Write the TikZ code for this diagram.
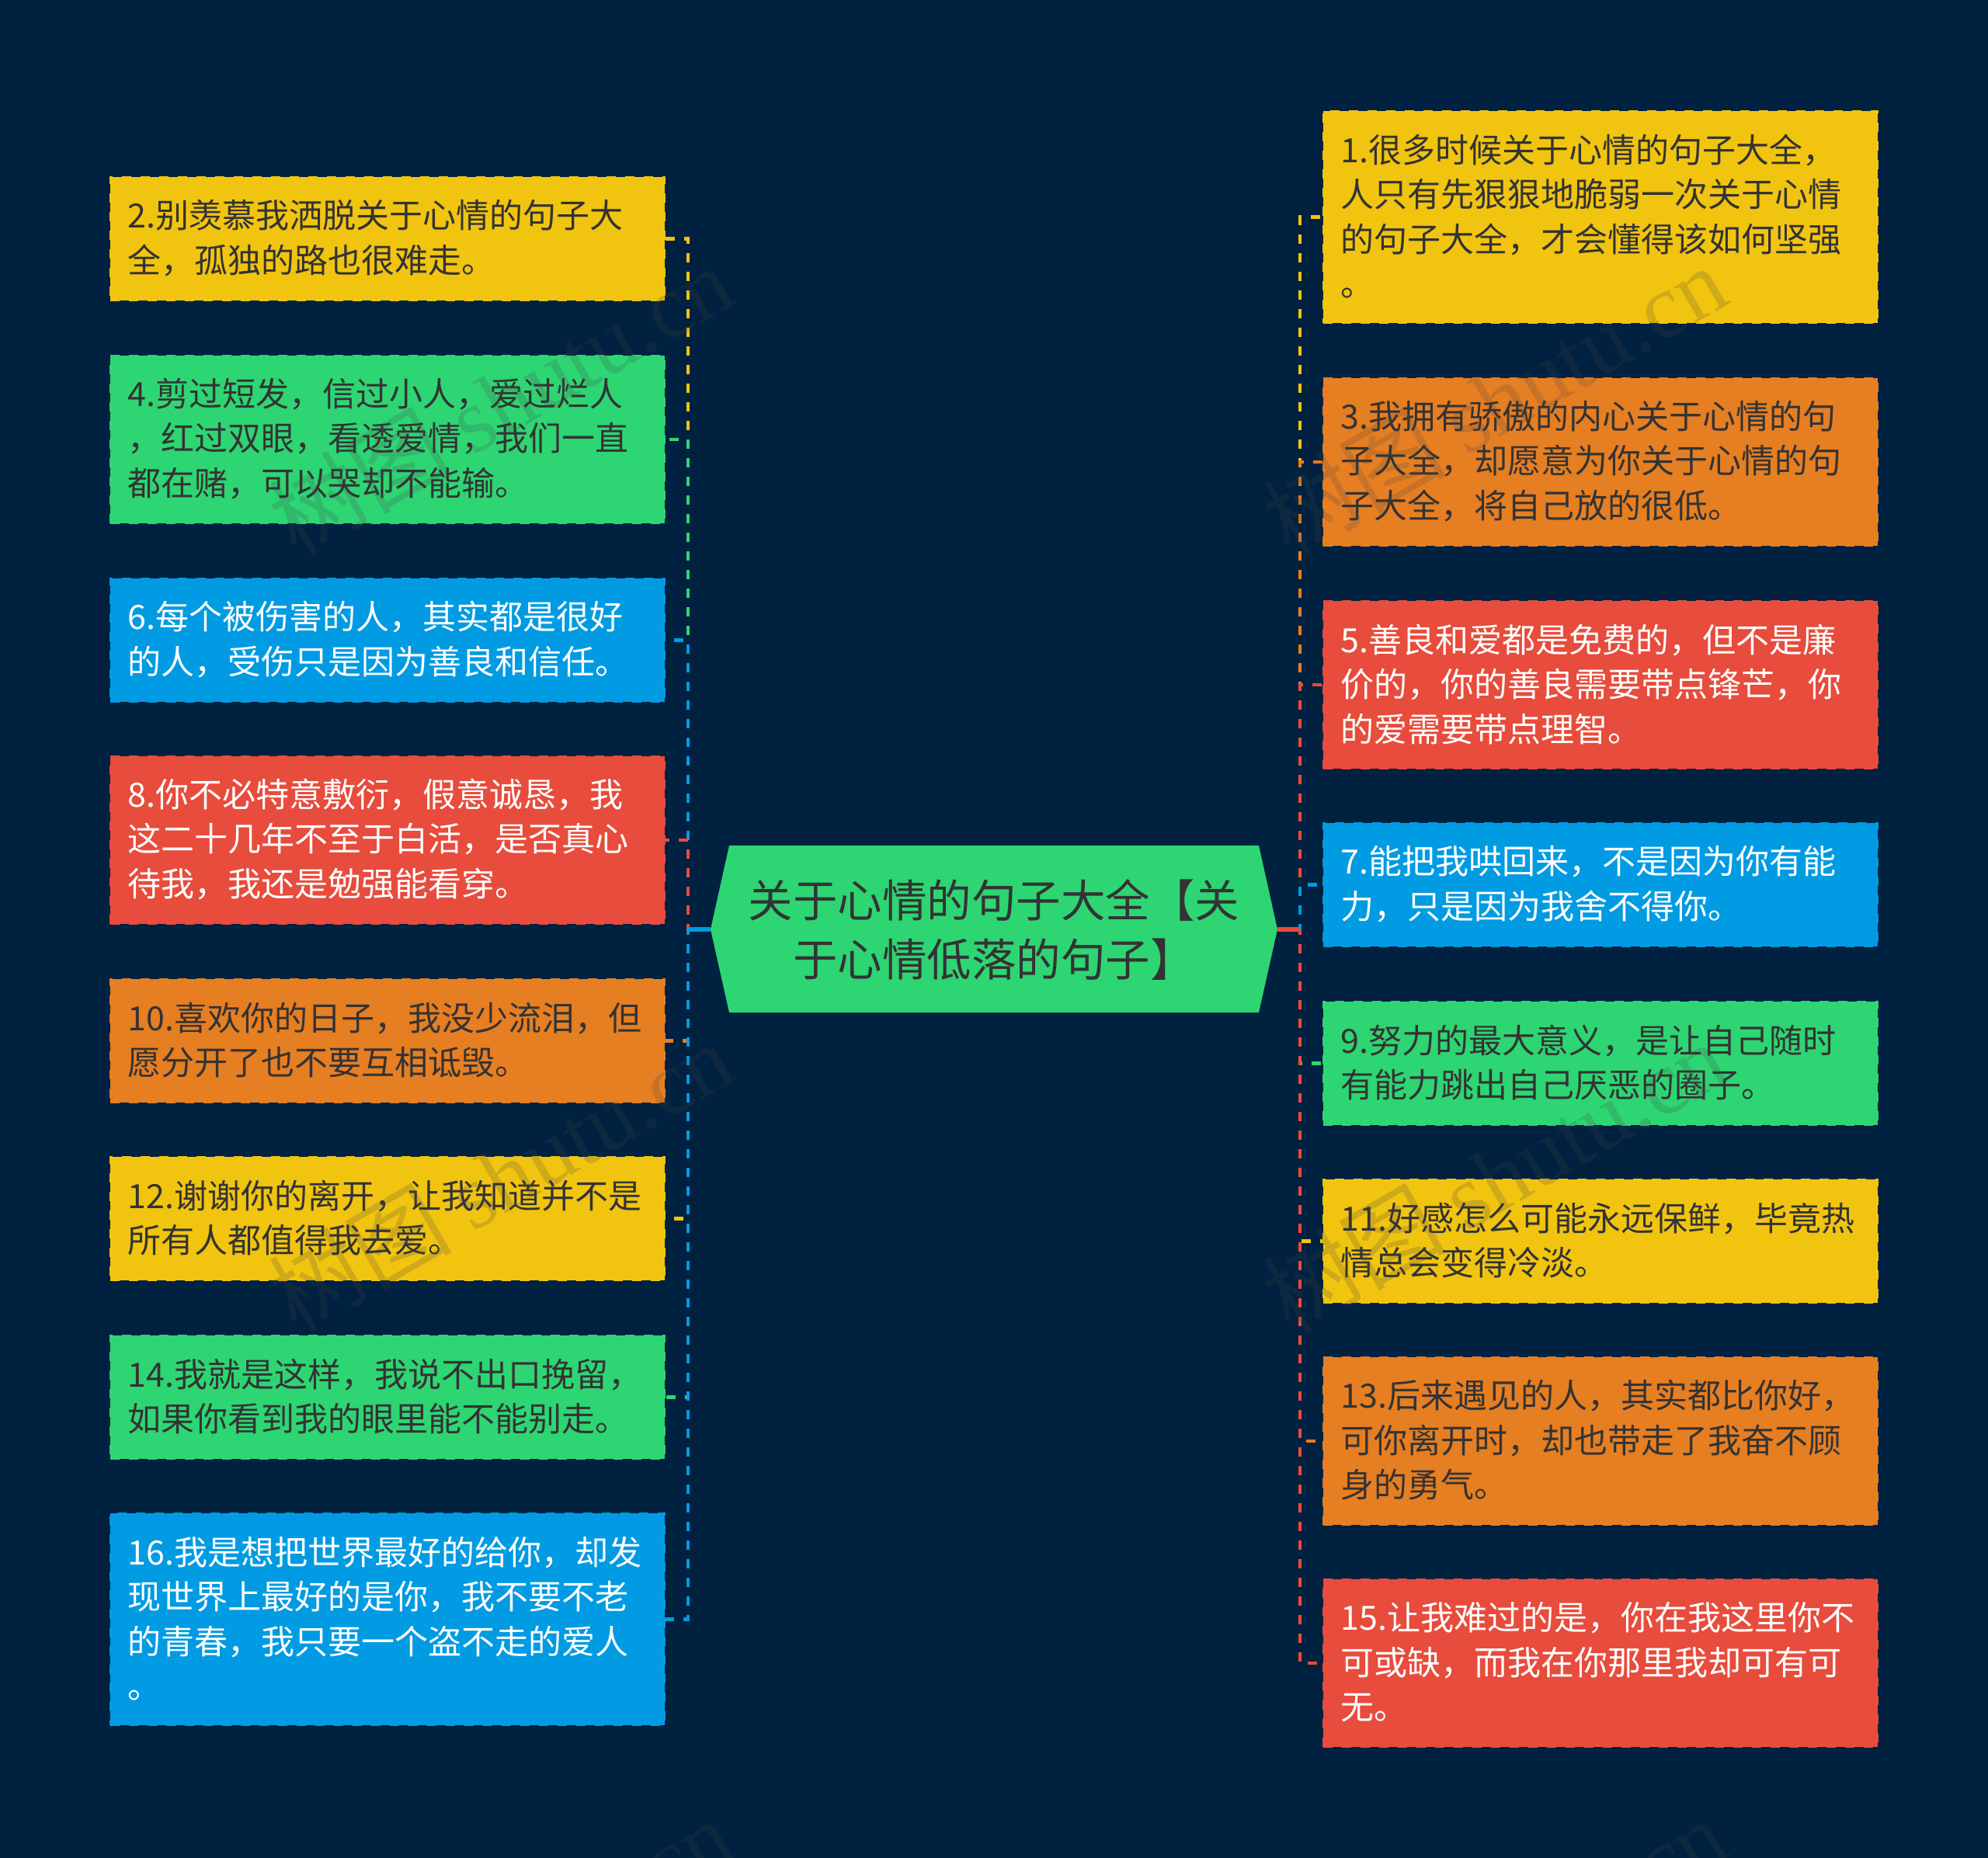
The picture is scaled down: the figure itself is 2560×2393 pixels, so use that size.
\documentclass[tikz,border=0pt]{standalone}
\usepackage{fontspec}
\setmainfont{Noto Sans CJK SC}
\newfontfamily\wmlatin{Liberation Serif}
\definecolor{bgc}{HTML}{00213F}
\definecolor{cY}{HTML}{F1C40F}
\definecolor{cG}{HTML}{2ED573}
\definecolor{cO}{HTML}{E67E22}
\definecolor{cR}{HTML}{E74C3C}
\definecolor{cB}{HTML}{009BE2}
\definecolor{ink}{HTML}{333333}
\definecolor{wmc}{HTML}{464646}
\tikzset{
  box/.style={anchor=north west,rectangle,fill=#1,draw=#1,line width=2pt,dash pattern=on 12pt off 12pt,
    outer sep=0pt,inner xsep=22.5pt,inner ysep=0pt,text width=669pt,minimum width=714pt,align=left,
    font=\fontsize{43pt}{57.5pt}\selectfont,execute at end node={\par\vspace*{2pt}}},
  dk/.style={text=ink},
  wh/.style={text=white},
  link/.style={draw=#1,line width=4.5pt,dash pattern=on 12pt off 12pt,dash phase=5pt},
  stub/.style={draw=#1,line width=6pt},
  wm/.style={text=wmc,text opacity=.2,rotate=30,font=\fontsize{118pt}{118pt}\selectfont,anchor=center}
}
\begin{document}
\begin{tikzpicture}[x=1pt,y=-1pt]
\path[use as bounding box,clip] (0,0) rectangle (2560,2393);
\fill[bgc] (0,0) rectangle (2560,2393);
\coordinate (ltrunk) at (886,1197);
\coordinate (rtrunk) at (1674,1197);
% root
\fill[cG] (915,1197) -- (939,1089) -- (1621,1089) -- (1645,1197) -- (1621,1304) -- (939,1304) -- cycle;
\node[minimum width=730pt,minimum height=215pt,outer sep=0pt,inner sep=0pt,align=center,text=ink,
  font=\fontsize{57.5pt}{76pt}\selectfont,execute at end node={\par\vspace*{4pt}}] (root) at (1280,1197) {关于心情的句子大全【关\\于心情低落的句子】};
% left boxes
\node[box=cY,dk,minimum height=159pt] (n2) at (142,228) {2.别羡慕我洒脱关于心情的句子大\\全，孤独的路也很难走。};
\node[box=cG,dk,minimum height=216pt] (n4) at (142,458) {4.剪过短发，信过小人，爱过烂人\\，红过双眼，看透爱情，我们一直\\都在赌，可以哭却不能输。};
\node[box=cB,wh,minimum height=159pt] (n6) at (142,745) {6.每个被伤害的人，其实都是很好\\的人，受伤只是因为善良和信任。};
\node[box=cR,wh,minimum height=216pt] (n8) at (142,974) {8.你不必特意敷衍，假意诚恳，我\\这二十几年不至于白活，是否真心\\待我，我还是勉强能看穿。};
\node[box=cO,dk,minimum height=159pt] (n10) at (142,1261) {10.喜欢你的日子，我没少流泪，但\\愿分开了也不要互相诋毁。};
\node[box=cY,dk,minimum height=159pt] (n12) at (142,1490) {12.谢谢你的离开，让我知道并不是\\所有人都值得我去爱。};
\node[box=cG,dk,minimum height=159pt] (n14) at (142,1720) {14.我就是这样，我说不出口挽留，\\如果你看到我的眼里能不能别走。};
\node[box=cB,wh,minimum height=273pt] (n16) at (142,1949) {16.我是想把世界最好的给你，却发\\现世界上最好的是你，我不要不老\\的青春，我只要一个盗不走的爱人\\。};
% right boxes
\node[box=cY,dk,minimum height=273pt] (n1) at (1704,143) {1.很多时候关于心情的句子大全，\\人只有先狠狠地脆弱一次关于心情\\的句子大全，才会懂得该如何坚强\\。};
\node[box=cO,dk,minimum height=216pt] (n3) at (1704,487) {3.我拥有骄傲的内心关于心情的句\\子大全，却愿意为你关于心情的句\\子大全，将自己放的很低。};
\node[box=cR,wh,minimum height=216pt] (n5) at (1704,774) {5.善良和爱都是免费的，但不是廉\\价的，你的善良需要带点锋芒，你\\的爱需要带点理智。};
\node[box=cB,wh,minimum height=159pt] (n7) at (1704,1060) {7.能把我哄回来，不是因为你有能\\力，只是因为我舍不得你。};
\node[box=cG,dk,minimum height=159pt] (n9) at (1704,1290) {9.努力的最大意义，是让自己随时\\有能力跳出自己厌恶的圈子。};
\node[box=cY,dk,minimum height=159pt] (n11) at (1704,1519) {11.好感怎么可能永远保鲜，毕竟热\\情总会变得冷淡。};
\node[box=cO,dk,minimum height=216pt] (n13) at (1704,1748) {13.后来遇见的人，其实都比你好，\\可你离开时，却也带走了我奋不顾\\身的勇气。};
\node[box=cR,wh,minimum height=216pt] (n15) at (1704,2034) {15.让我难过的是，你在我这里你不\\可或缺，而我在你那里我却可有可\\无。};
% connectors
\draw[link=cY] (ltrunk) |- (n2.east);
\draw[link=cG] (ltrunk) |- (n4.east);
\draw[link=cB] (ltrunk) |- (n6.east);
\draw[link=cR] (ltrunk) |- (n8.east);
\draw[link=cO] (ltrunk) |- (n10.east);
\draw[link=cY] (ltrunk) |- (n12.east);
\draw[link=cG] (ltrunk) |- (n14.east);
\draw[link=cB] (ltrunk) |- (n16.east);
\draw[stub=cB] (root.west) -- (ltrunk);
\draw[link=cY] (rtrunk) |- (n1.west);
\draw[link=cO] (rtrunk) |- (n3.west);
\draw[link=cR] (rtrunk) |- (n5.west);
\draw[link=cB] (rtrunk) |- (n7.west);
\draw[link=cG] (rtrunk) |- (n9.west);
\draw[link=cY] (rtrunk) |- (n11.west);
\draw[link=cO] (rtrunk) |- (n13.west);
\draw[link=cR] (rtrunk) |- (n15.west);
\draw[stub=cR] (root.east) -- (rtrunk);
% watermarks
\node[wm] (w1) at (644,515) {树图 {\wmlatin shutu.cn}};
\node[wm] (w2) at (1924,515) {树图 {\wmlatin shutu.cn}};
\node[wm] (w3) at (644,1515) {树图 {\wmlatin shutu.cn}};
\node[wm] (w4) at (1924,1515) {树图 {\wmlatin shutu.cn}};
\node[wm] (w5) at (644,2515) {树图 {\wmlatin shutu.cn}};
\node[wm] (w6) at (1924,2515) {树图 {\wmlatin shutu.cn}};
\end{tikzpicture}
\end{document}
